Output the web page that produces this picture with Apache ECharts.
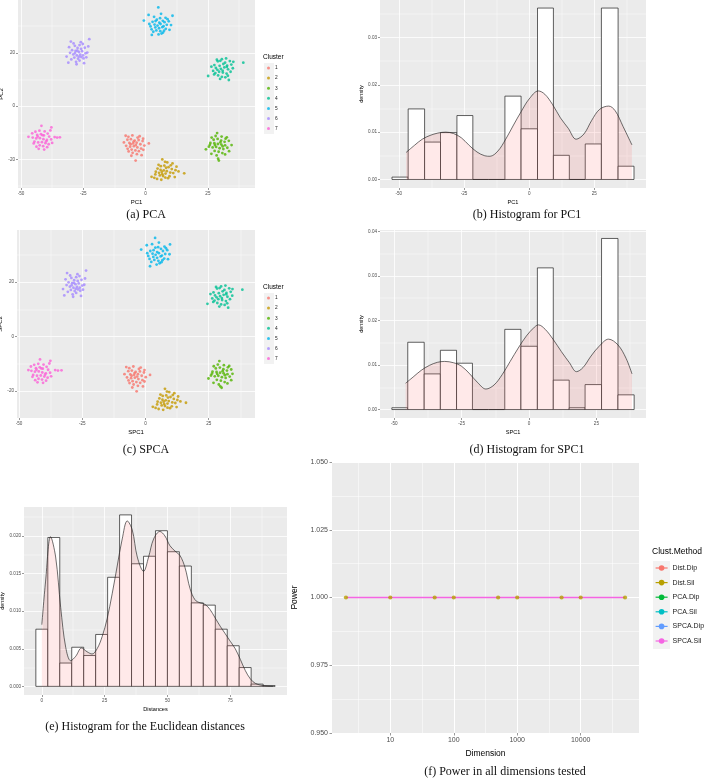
<!DOCTYPE html>
<html><head><meta charset="utf-8">
<script src="https://cdn.jsdelivr.net/npm/echarts@6/dist/echarts.min.js"></script>
<style>html,body{margin:0;padding:0;background:#fff}#c{width:708px;height:779px}</style>
</head><body><div id="c"></div>
<script>
// ---------- DATA ----------
const clusterNames = ['1','2','3','4','5','6','7'];
const clusterColors = ['#F8766D','#C49A00','#53B400','#00C094','#00B6EB','#A58AFF','#FB61D7'];

// (a) PCA scores (PC1, PC2) per cluster
const pcaC1 = [[-4.0,-20.4],[1.3,-14.0],[-1.6,-18.4],[-8.7,-13.6],[-8.0,-11.1],[-6.9,-11.5],[-5.3,-11.0],[-3.2,-11.8],[-7.3,-12.6],[-5.9,-12.4],[-4.4,-12.9],[-2.8,-12.7],[-1.2,-13.1],[-6.5,-13.8],[-5.0,-14.0],[-3.6,-13.7],[-2.1,-14.3],[-0.5,-14.8],[-7.8,-14.9],[-6.2,-15.2],[-4.7,-15.0],[-3.3,-15.5],[-1.8,-15.9],[-5.6,-16.3],[-4.1,-16.6],[-2.7,-16.9],[-6.8,-17.0],[-5.2,-17.5],[-3.5,-18.0],[-0.9,-16.4],[-7.2,-16.0],[-2.4,-11.3],[-4.8,-13.3],[-3.9,-14.6],[-6.0,-14.3],[-1.0,-12.2],[-5.7,-18.6]];
const pcaC2 = [[15.5,-25.2],[2.4,-26.5],[6.7,-20.0],[3.5,-26.9],[4.6,-27.3],[6.3,-27.6],[7.9,-26.8],[9.6,-26.3],[11.7,-26.6],[13.2,-24.5],[12.4,-22.7],[10.8,-21.5],[8.7,-21.1],[5.2,-22.0],[6.1,-22.5],[7.5,-22.3],[9.2,-22.9],[10.5,-23.6],[4.8,-23.4],[6.0,-23.9],[7.3,-24.1],[8.5,-24.4],[9.9,-24.9],[5.4,-25.0],[6.7,-25.5],[8.0,-25.3],[11.1,-25.1],[4.1,-24.6],[7.0,-26.2],[9.0,-27.0],[5.7,-26.0],[8.2,-23.1],[6.5,-24.6],[10.1,-22.2],[3.9,-25.6],[7.8,-20.9],[12.0,-24.0]];
const pcaC3 = [[29.4,-20.4],[28.7,-10.1],[24.2,-16.2],[29.1,-19.7],[26.5,-11.8],[30.5,-11.4],[32.1,-12.2],[27.3,-12.6],[28.9,-12.3],[30.3,-12.9],[31.7,-13.4],[33.4,-13.0],[26.0,-13.8],[27.6,-13.9],[29.0,-14.2],[30.4,-14.4],[31.9,-14.7],[34.5,-14.6],[25.4,-15.2],[26.9,-15.5],[28.3,-15.3],[29.7,-15.8],[31.2,-16.1],[32.8,-15.6],[27.7,-16.8],[29.3,-17.1],[30.8,-17.6],[33.5,-16.9],[26.4,-17.9],[28.5,-18.5],[31.9,-18.1],[27.8,-14.6],[30.0,-13.6],[32.6,-11.7],[25.8,-14.5],[28.1,-11.2],[30.9,-15.1]];
const pcaC4 = [[39.2,16.3],[25.1,11.3],[27.6,15.4],[29.0,16.8],[30.6,17.6],[32.3,17.9],[33.8,16.9],[28.2,14.3],[29.7,15.1],[31.2,15.8],[32.7,15.2],[34.4,15.6],[27.1,13.2],[28.8,13.6],[30.2,14.0],[31.6,14.5],[33.1,13.8],[35.0,14.2],[28.0,12.4],[29.5,12.9],[31.0,12.6],[32.5,12.2],[34.1,12.9],[29.1,11.5],[30.6,11.0],[32.0,10.8],[33.4,9.8],[26.4,14.8],[30.0,17.0],[35.2,16.6],[31.9,16.3],[28.6,17.4],[30.9,13.3],[33.0,11.4],[27.5,11.9],[29.9,10.2],[32.6,14.7]];
const pcaC5 = [[5.1,37.0],[-0.7,32.1],[10.8,33.9],[2.5,26.7],[1.2,34.2],[3.4,33.5],[6.2,34.6],[8.0,33.1],[4.5,32.4],[6.9,32.0],[2.8,31.6],[5.5,31.3],[7.6,31.5],[9.3,31.8],[3.6,30.6],[4.8,30.2],[6.0,30.8],[7.2,30.0],[8.5,30.5],[2.0,29.9],[3.9,29.5],[5.4,29.2],[6.7,29.6],[8.1,29.0],[4.3,28.4],[5.9,28.1],[7.4,28.3],[3.1,27.9],[6.4,27.2],[9.6,28.6],[1.5,30.8],[10.2,30.4],[4.0,31.9],[5.8,33.0],[7.0,27.6],[2.4,28.8],[8.8,32.6],[5.2,26.9]];
const pcaC6 = [[-30.0,24.2],[-22.6,25.1],[-31.0,16.3],[-27.7,15.7],[-24.7,16.1],[-31.7,18.6],[-23.4,20.1],[-28.4,22.6],[-26.5,22.9],[-25.2,23.3],[-27.3,21.8],[-25.9,21.5],[-24.4,21.9],[-29.5,21.0],[-28.1,20.7],[-26.8,20.3],[-25.5,20.6],[-24.1,19.8],[-30.3,20.0],[-29.0,19.4],[-27.6,19.0],[-26.2,19.3],[-28.6,18.2],[-27.1,17.8],[-25.8,18.4],[-29.8,17.5],[-26.5,17.1],[-27.9,16.6],[-24.9,17.9],[-23.0,22.4],[-28.9,23.5],[-26.0,24.0],[-30.7,22.1],[-27.4,20.8],[-25.1,19.0],[-28.3,19.9],[-26.7,18.6],[-23.8,18.3]];
const pcaC7 = [[-47.0,-11.5],[-34.4,-11.7],[-35.5,-11.8],[-36.5,-11.6],[-41.8,-7.4],[-37.8,-8.0],[-38.2,-9.1],[-44.2,-9.6],[-42.6,-9.2],[-40.5,-9.5],[-39.3,-10.3],[-43.5,-10.8],[-42.0,-10.5],[-40.8,-11.0],[-38.7,-11.4],[-45.3,-11.8],[-43.9,-12.1],[-42.4,-12.0],[-41.0,-12.4],[-39.6,-12.7],[-37.9,-12.5],[-44.6,-13.3],[-43.1,-13.6],[-41.6,-13.5],[-40.2,-13.9],[-38.9,-14.3],[-42.5,-14.7],[-41.1,-15.0],[-39.5,-15.4],[-43.8,-15.2],[-40.7,-16.3],[-42.9,-16.0],[-44.9,-14.0],[-45.5,-10.2],[-41.4,-10.9],[-39.9,-13.2],[-37.5,-13.8],[-43.3,-11.4]];

// (c) SPCA scores (SPC1, SPC2) per cluster
const spcaC1 = [[-3.5,-20.1],[1.8,-14.1],[-1.0,-18.3],[-8.3,-13.8],[-7.6,-11.2],[-6.4,-11.6],[-4.8,-11.0],[-2.6,-11.9],[-6.8,-12.7],[-5.4,-12.5],[-3.9,-13.0],[-2.2,-12.8],[-0.6,-13.2],[-6.0,-13.9],[-4.5,-14.1],[-3.0,-13.8],[-1.5,-14.4],[0.1,-14.9],[-7.3,-15.0],[-5.7,-15.3],[-4.2,-15.1],[-2.8,-15.6],[-1.2,-16.0],[-5.1,-16.4],[-3.6,-16.7],[-2.1,-17.0],[-6.3,-17.1],[-4.7,-17.6],[-3.0,-18.1],[-0.4,-16.5],[-6.7,-16.1],[-1.9,-11.4],[-4.3,-13.4],[-3.3,-14.7],[-5.5,-14.4],[-0.4,-12.3],[-5.2,-18.7]];
const spcaC2 = [[16.0,-24.3],[2.9,-25.8],[7.7,-19.2],[4.0,-26.2],[5.2,-26.6],[7.0,-26.9],[8.7,-26.1],[10.4,-25.6],[12.3,-25.9],[13.8,-23.8],[12.9,-22.0],[11.4,-20.8],[9.4,-20.4],[5.9,-21.3],[6.8,-21.8],[8.2,-21.6],[9.9,-22.2],[11.2,-22.9],[5.5,-22.7],[6.7,-23.2],[8.0,-23.4],[9.2,-23.7],[10.6,-24.2],[6.1,-24.3],[7.4,-24.8],[8.7,-24.6],[11.8,-24.4],[4.8,-23.9],[7.7,-25.5],[9.7,-26.3],[6.4,-25.3],[8.9,-22.4],[7.2,-23.9],[10.8,-21.5],[4.6,-24.9],[8.5,-20.2],[12.6,-23.3]];
const spcaC3 = [[30.1,-18.8],[29.2,-9.0],[24.9,-15.4],[29.6,-18.3],[27.0,-10.9],[31.0,-10.5],[32.6,-11.3],[27.8,-11.7],[29.4,-11.4],[30.8,-12.0],[32.2,-12.5],[33.9,-12.1],[26.5,-12.9],[28.1,-13.0],[29.5,-13.3],[30.9,-13.5],[32.4,-13.8],[34.4,-13.7],[25.9,-14.3],[27.4,-14.6],[28.8,-14.4],[30.2,-14.9],[31.7,-15.2],[33.3,-14.7],[28.2,-15.9],[29.8,-16.2],[31.3,-16.7],[33.9,-16.0],[26.9,-17.0],[29.0,-17.6],[32.4,-17.2],[28.3,-13.7],[30.5,-12.7],[33.1,-10.8],[26.3,-13.6],[28.6,-10.3],[31.4,-14.2]];
const spcaC4 = [[38.3,17.2],[24.5,12.0],[26.9,16.2],[28.3,17.6],[29.9,18.4],[31.6,18.7],[33.1,17.7],[27.5,15.1],[29.0,15.9],[30.5,16.6],[32.0,16.0],[33.7,16.4],[26.4,14.0],[28.1,14.4],[29.5,14.8],[30.9,15.3],[32.4,14.6],[34.3,15.0],[27.3,13.2],[28.8,13.7],[30.3,13.4],[31.8,13.0],[33.4,13.7],[28.4,12.3],[29.9,11.8],[31.3,11.6],[32.7,10.6],[25.7,15.6],[29.3,17.8],[34.4,17.4],[31.2,17.1],[27.9,18.2],[30.2,14.1],[32.3,12.2],[26.8,12.7],[29.2,11.0],[31.9,15.5]];
const spcaC5 = [[3.8,36.2],[-1.7,31.9],[9.7,33.8],[1.8,25.8],[0.5,33.5],[2.6,33.9],[5.3,34.5],[7.5,33.0],[3.9,32.6],[6.1,32.2],[1.9,31.4],[4.6,31.0],[6.9,31.4],[8.6,31.7],[2.8,30.4],[4.0,30.0],[5.3,30.6],[6.5,29.7],[7.8,30.3],[1.1,29.6],[3.1,29.2],[4.6,28.9],[6.0,29.4],[7.4,28.6],[3.5,28.1],[5.1,27.8],[6.7,28.0],[2.3,27.4],[5.6,26.9],[8.9,28.4],[0.7,30.6],[9.5,30.2],[3.2,31.7],[5.0,32.8],[6.3,27.3],[1.6,28.5],[8.1,32.4],[4.4,26.4]];
const spcaC6 = [[-31.0,23.3],[-23.5,24.2],[-32.1,15.1],[-28.6,14.6],[-25.5,14.9],[-32.6,17.4],[-24.2,19.0],[-29.3,21.5],[-27.4,21.8],[-26.1,22.2],[-28.2,20.7],[-26.8,20.4],[-25.3,20.8],[-30.4,19.9],[-29.0,19.6],[-27.7,19.2],[-26.4,19.5],[-25.0,18.7],[-31.2,18.9],[-29.9,18.3],[-28.5,17.9],[-27.1,18.2],[-29.5,17.1],[-28.0,16.7],[-26.7,17.3],[-30.7,16.4],[-27.4,16.0],[-28.8,15.5],[-25.8,16.8],[-23.9,21.3],[-29.8,22.4],[-26.9,22.9],[-31.6,21.0],[-28.3,19.7],[-26.0,17.9],[-29.2,18.8],[-27.6,17.5],[-24.7,17.2]];
const spcaC7 = [[-46.3,-12.3],[-33.2,-12.4],[-34.6,-12.5],[-35.7,-12.3],[-41.7,-8.4],[-37.6,-8.9],[-38.0,-9.9],[-44.0,-10.4],[-42.4,-10.0],[-40.3,-10.3],[-39.1,-11.1],[-43.3,-11.6],[-41.8,-11.3],[-40.6,-11.8],[-38.5,-12.2],[-45.1,-12.6],[-43.7,-12.9],[-42.2,-12.8],[-40.8,-13.2],[-39.4,-13.5],[-37.7,-13.3],[-44.4,-14.1],[-42.9,-14.4],[-41.4,-14.3],[-40.0,-14.7],[-38.7,-15.1],[-42.3,-15.5],[-40.9,-15.8],[-39.3,-16.2],[-43.6,-16.0],[-40.5,-17.0],[-42.7,-16.8],[-44.7,-14.8],[-45.3,-11.0],[-41.2,-11.7],[-39.7,-14.0],[-37.3,-14.6],[-43.1,-12.2]];

// (b) histogram of PC1
const histPC1Edges = [-52.6,-46.4,-40.1,-34.0,-27.7,-21.6,-15.5,-9.3,-3.1,3.2,9.3,15.4,21.5,27.7,34.1,40.2];
const histPC1Density = [0.0005,0.0149,0.0079,0.0099,0.0135,0,0,0.0176,0.0107,0.0362,0.0051,0,0.0075,0.0362,0.0028];
const densPC1 = [[-47.2,0.0057],[-44,0.0072],[-41,0.0085],[-38,0.0093],[-35,0.0098],[-32,0.0100],[-29,0.0097],[-26,0.0088],[-23,0.0072],[-20,0.0058],[-17,0.0050],[-15,0.0049],[-12,0.0060],[-9,0.0085],[-6,0.0115],[-3,0.0144],[0,0.0170],[3.5,0.0187],[6,0.0180],[9,0.0158],[12,0.0130],[15,0.0108],[18,0.0085],[21,0.0096],[24,0.0125],[27,0.0148],[30.5,0.0155],[33,0.0145],[36,0.0112],[39.4,0.0073]];

// (d) histogram of SPC1
const histSPC1Edges = [-50.9,-45.0,-38.9,-32.9,-26.9,-21.0,-15.0,-9.0,-3.0,3.1,9.0,14.9,20.8,26.9,33.0,39.0];
const histSPC1Density = [0.0004,0.0151,0.0080,0.0133,0.0104,0,0,0.0180,0.0142,0.0318,0.0066,0.0004,0.0056,0.0384,0.0033];
const densSPC1 = [[-45.8,0.0059],[-43,0.0073],[-40,0.0088],[-37,0.0099],[-34,0.0106],[-31.3,0.0108],[-28,0.0105],[-25,0.0097],[-22,0.0080],[-19,0.0060],[-16,0.0046],[-13,0.0055],[-10,0.0078],[-7,0.0108],[-4,0.0138],[-1,0.0165],[2,0.0185],[3.5,0.0190],[6,0.0180],[9,0.0157],[12,0.0130],[15,0.0105],[17.6,0.0085],[20,0.0094],[23,0.0120],[26,0.0142],[29.5,0.0158],[33,0.0145],[36,0.0115],[38.2,0.0080]];

// (e) histogram of Euclidean distances
const histDistEdges = [-2.38,2.38,7.14,11.90,16.67,21.43,26.19,30.95,35.71,40.48,45.24,50.00,54.76,59.52,64.29,69.05,73.81,78.57,83.33,88.10,92.86];
const histDistDensity = [0.0076,0.0198,0.0031,0.0052,0.0041,0.0069,0.0145,0.0228,0.0163,0.0173,0.0207,0.0179,0.0160,0.0111,0.0108,0.0076,0.0054,0.0025,0.0003,0.0001];
const densDist = [[0,0.0082],[1.5,0.0140],[3.5,0.0199],[5.5,0.0172],[7.5,0.0105],[9.5,0.0052],[11.5,0.0034],[13.5,0.0040],[15.8,0.0051],[18,0.0046],[20,0.0043],[22,0.0050],[24,0.0066],[26,0.0090],[28,0.0123],[30,0.0160],[32,0.0196],[34,0.0220],[36,0.0208],[38,0.0172],[40.5,0.0153],[42.5,0.0172],[44.5,0.0196],[47,0.0206],[49,0.0200],[51,0.0187],[53,0.0180],[55,0.0174],[57,0.0158],[59,0.0130],[61,0.0115],[63,0.0111],[65,0.0109],[67,0.0102],[69,0.0091],[71,0.0080],[73,0.0070],[75,0.0060],[77,0.0050],[79,0.0036],[81,0.0021],[83,0.0010],[85,0.0004],[88,0.0001],[92,0.0000]];

// (f) power by dimension
const dims = [2,10,50,100,500,1000,5000,10000,50000];
const methodNames = ['Dist.Dip','Dist.Sil','PCA.Dip','PCA.Sil','SPCA.Dip','SPCA.Sil'];
const methodColors = ['#F8766D','#B79F00','#00BA38','#00BFC4','#619CFF','#F564E3'];
const powerDistDip = [1,1,1,1,1,1,1,1,1];
const powerDistSil = [1,1,1,1,1,1,1,1,1];
const powerPCADip = [1,1,1,1,1,1,1,1,1];
const powerPCASil = [1,1,1,1,1,1,1,1,1];
const powerSPCADip = [1,1,1,1,1,1,1,1,1];
const powerSPCASil = [1,1,1,1,1,1,1,1,1];

// tick labels
const ticksScatterX = [-50,-25,0,25];
const ticksScatterY = [-20,0,20];
const ticksHistX = [-50,-25,0,25];
const ticksPC1Y = [0,0.01,0.02,0.03];
const ticksSPC1Y = [0,0.01,0.02,0.03,0.04];
const ticksDistX = [0,25,50,75];
const ticksDistY = [0,0.005,0.01,0.015,0.02];
const ticksDimX = [10,100,1000,10000];
const ticksPowerY = [0.95,0.975,1,1.025,1.05];

// ---------- BUILD ----------
const SANS = '"Liberation Sans", Arial, sans-serif';
const SERIF = '"Liberation Serif", "DejaVu Serif", serif';

const grids = [
  {left:18,  top:0,   width:237, height:188}, // a
  {left:380, top:0,   width:266, height:188}, // b
  {left:17,  top:230, width:238, height:188}, // c
  {left:380, top:230, width:266, height:188}, // d
  {left:24,  top:507, width:263, height:188}, // e
  {left:332, top:462, width:307, height:271}  // f
].map(g => Object.assign({show:true, backgroundColor:'#EBEBEB', borderWidth:0, containLabel:false, outerBoundsMode:'none'}, g));

function mainAxis(dim, gi, min, max, ticks, fmt, o) {
  return {
    type: o.log ? 'log' : 'value', logBase: 10, gridIndex: gi, min: min, max: max,
    position: dim === 'x' ? 'bottom' : 'left',
    name: o.name, nameLocation: 'middle', nameGap: o.nameGap,
    nameTextStyle: {fontSize: o.nameSize, color: '#000', fontFamily: SANS},
    axisLine: {show: false, onZero: false},
    axisTick: {show: true, length: o.tickLen, lineStyle: {color: '#333', width: 0.5}, customValues: ticks},
    axisLabel: {show: true, customValues: ticks, formatter: fmt, fontSize: o.labelSize, color: '#4D4D4D', margin: o.margin, fontFamily: SANS},
    splitLine: {show: true, lineStyle: {color: '#fff', width: o.major}},
    minorTick: {show: false}, minorSplitLine: {show: false}
  };
}
function minorAxis(dim, gi, min, max, ticks, w, log) {
  return {
    type: log ? 'log' : 'value', logBase: 10, gridIndex: gi, min: min, max: max,
    position: dim === 'x' ? 'bottom' : 'left',
    axisLine: {show: false, onZero: false},
    axisTick: {show: false, customValues: ticks},
    axisLabel: {show: false, customValues: ticks},
    splitLine: {show: true, lineStyle: {color: '#fff', width: w}}
  };
}
const fInt = v => String(Math.round(v));
const f2 = v => v.toFixed(2);
const f3 = v => v.toFixed(3);

const sc = {tickLen: 2, labelSize: 4.6, margin: 3, major: 0.8, nameSize: 6};
const hs = {tickLen: 2, labelSize: 4.6, margin: 3, major: 0.8, nameSize: 5.6};

const xAxes = [
  mainAxis('x', 0, -51.2, 43.9, ticksScatterX, fInt, Object.assign({name: 'PC1', nameGap: 11}, sc)),
  mainAxis('x', 1, -57.2, 44.8, ticksHistX, fInt, Object.assign({name: 'PC1', nameGap: 11}, hs)),
  mainAxis('x', 2, -50.8, 43.3, ticksScatterX, fInt, Object.assign({name: 'SPC1', nameGap: 11}, sc)),
  mainAxis('x', 3, -55.3, 43.4, ticksHistX, fInt, Object.assign({name: 'SPC1', nameGap: 11}, hs)),
  mainAxis('x', 4, -7.1, 97.6, ticksDistX, fInt, Object.assign({name: 'Distances', nameGap: 11}, hs)),
  mainAxis('x', 5, 1.206, 82990, ticksDimX, fInt, {name: 'Dimension', nameGap: 16, nameSize: 8.5, tickLen: 2.5, labelSize: 7, margin: 4, major: 1, log: true}),
  minorAxis('x', 0, -51.2, 43.9, [-37.5,-12.5,12.5,37.5], 0.4),
  minorAxis('x', 1, -57.2, 44.8, [-37.5,-12.5,12.5,37.5], 0.4),
  minorAxis('x', 2, -50.8, 43.3, [-37.5,-12.5,12.5,37.5], 0.4),
  minorAxis('x', 3, -55.3, 43.4, [-37.5,-12.5,12.5,37.5], 0.4),
  minorAxis('x', 4, -7.1, 97.6, [12.5,37.5,62.5,87.5], 0.4),
  minorAxis('x', 5, 1.206, 82990, [3.1623,31.623,316.23,3162.3,31623], 0.5, true)
];
const yAxes = [
  mainAxis('y', 0, -30.7, 39.8, ticksScatterY, fInt, Object.assign({name: 'PC2', nameGap: 12}, sc)),
  mainAxis('y', 1, -0.0018, 0.0379, ticksPC1Y, f2, Object.assign({name: 'density', nameGap: 16}, hs)),
  mainAxis('y', 2, -29.9, 39.1, ticksScatterY, fInt, Object.assign({name: 'SPC2', nameGap: 12}, sc)),
  mainAxis('y', 3, -0.0019, 0.0403, ticksSPC1Y, f2, Object.assign({name: 'density', nameGap: 16}, hs)),
  mainAxis('y', 4, -0.00115, 0.02385, ticksDistY, f3, Object.assign({name: 'density', nameGap: 18}, hs)),
  mainAxis('y', 5, 0.95, 1.05, ticksPowerY, f3, {name: 'Power', nameGap: 33, nameSize: 8.5, tickLen: 2.5, labelSize: 7, margin: 4, major: 1}),
  minorAxis('y', 0, -30.7, 39.8, [-30,-10,10,30], 0.4),
  minorAxis('y', 1, -0.0018, 0.0379, [0.005,0.015,0.025,0.035], 0.4),
  minorAxis('y', 2, -29.9, 39.1, [-30,-10,10,30], 0.4),
  minorAxis('y', 3, -0.0019, 0.0403, [0.005,0.015,0.025,0.035], 0.4),
  minorAxis('y', 4, -0.00115, 0.02385, [0.0025,0.0075,0.0125,0.0175,0.0225], 0.4),
  minorAxis('y', 5, 0.95, 1.05, [0.9625,0.9875,1.0125,1.0375], 0.5)
];

const series = [];
const pcaSets = [pcaC1,pcaC2,pcaC3,pcaC4,pcaC5,pcaC6,pcaC7];
const spcaSets = [spcaC1,spcaC2,spcaC3,spcaC4,spcaC5,spcaC6,spcaC7];
pcaSets.forEach((d, i) => series.push({type:'scatter', name: clusterNames[i], xAxisIndex:0, yAxisIndex:0, data:d, symbolSize:2.8, itemStyle:{color:clusterColors[i]}, silent:true}));
spcaSets.forEach((d, i) => series.push({type:'scatter', name: clusterNames[i], xAxisIndex:2, yAxisIndex:2, data:d, symbolSize:2.8, itemStyle:{color:clusterColors[i]}, silent:true}));

function histSeries(ai, edges, heights) {
  return {
    type: 'custom', xAxisIndex: ai, yAxisIndex: ai, silent: true, z: 2,
    data: heights.map((h, i) => [edges[i], edges[i+1], h]),
    encode: {x: [0, 1], y: 2},
    renderItem: function (params, api) {
      const p0 = api.coord([api.value(0), 0]);
      const p1 = api.coord([api.value(1), api.value(2)]);
      return {type: 'rect', shape: {x: p0[0], y: p1[1], width: p1[0] - p0[0], height: p0[1] - p1[1]},
        style: {fill: '#fff', stroke: '#1e1e1e', lineWidth: 0.7}};
    }
  };
}
function densSeries(ai, pts) {
  return {type: 'line', xAxisIndex: ai, yAxisIndex: ai, data: pts, smooth: 0.35,
    symbol: 'none', showSymbol: false, silent: true, z: 3,
    lineStyle: {color: '#222', width: 0.65}, areaStyle: {color: 'rgba(255,102,102,0.2)', origin: 0}};
}
series.push(histSeries(1, histPC1Edges, histPC1Density), densSeries(1, densPC1));
series.push(histSeries(3, histSPC1Edges, histSPC1Density), densSeries(3, densSPC1));
series.push(histSeries(4, histDistEdges, histDistDensity), densSeries(4, densDist));

// (f): the six lines coincide; only the last-drawn one (SPCA.Sil) is visible, as in the reference
const powers = [powerDistDip, powerDistSil, powerPCADip, powerPCASil, powerSPCADip, powerSPCASil];
const lastIdx = methodNames.length - 1;
methodNames.forEach((n, i) => series.push({
  type: 'line', name: n, xAxisIndex: 5, yAxisIndex: 5, data: dims.map((d, k) => [d, powers[i][k]]),
  symbol: 'circle', symbolSize: 4, showSymbol: false, silent: true,
  emphasis: {disabled: true}, z: 4,
  lineStyle: {color: methodColors[i], width: 1.3, opacity: i === lastIdx ? 1 : 0},
  itemStyle: {color: methodColors[i]}
}));
series.push({type: 'scatter', name: 'Dist.Sil points', xAxisIndex: 5, yAxisIndex: 5,
  data: dims.map((d, k) => [d, powerDistSil[k]]), symbolSize: 4.2, z: 8, silent: true,
  itemStyle: {color: methodColors[1]}});

const legendCluster = (top) => ({
  orient: 'vertical', left: 267, top: top, padding: 0, itemWidth: 3, itemHeight: 3, itemGap: 4.1,
  icon: 'circle', data: clusterNames, selectedMode: false,
  textStyle: {fontSize: 4.8, color: '#1a1a1a', lineHeight: 6, fontFamily: SANS}
});

const graphics = [
  {type:'rect', shape:{x:264, y:63, width:10, height:71}, style:{fill:'#F2F2F2'}, z:-1},
  {type:'rect', shape:{x:264, y:293, width:10, height:71}, style:{fill:'#F2F2F2'}, z:-1},
  {type:'rect', shape:{x:653, y:561, width:17, height:88}, style:{fill:'#F2F2F2'}, z:-1},
  {type:'text', x:263, y:57, style:{text:'Cluster', font:'6.5px ' + SANS, fill:'#000', textAlign:'left', textVerticalAlign:'middle'}},
  {type:'text', x:263, y:287, style:{text:'Cluster', font:'6.5px ' + SANS, fill:'#000', textAlign:'left', textVerticalAlign:'middle'}},
  {type:'text', x:652, y:552, style:{text:'Clust.Method', font:'8.5px ' + SANS, fill:'#000', textAlign:'left', textVerticalAlign:'middle'}},
  {type:'text', x:146, y:215, style:{text:'(a) PCA', font:'12px ' + SERIF, fill:'#111', textAlign:'center', textVerticalAlign:'middle'}},
  {type:'text', x:527, y:215, style:{text:'(b) Histogram for PC1', font:'12px ' + SERIF, fill:'#111', textAlign:'center', textVerticalAlign:'middle'}},
  {type:'text', x:146, y:450, style:{text:'(c) SPCA', font:'12px ' + SERIF, fill:'#111', textAlign:'center', textVerticalAlign:'middle'}},
  {type:'text', x:527, y:450, style:{text:'(d) Histogram for SPC1', font:'12px ' + SERIF, fill:'#111', textAlign:'center', textVerticalAlign:'middle'}},
  {type:'text', x:145, y:727, style:{text:'(e) Histogram for the Euclidean distances', font:'12px ' + SERIF, fill:'#111', textAlign:'center', textVerticalAlign:'middle'}},
  {type:'text', x:505, y:772, style:{text:'(f) Power in all dimensions tested', font:'12px ' + SERIF, fill:'#111', textAlign:'center', textVerticalAlign:'middle'}}
];

const chart = echarts.init(document.getElementById('c'), null, {renderer: 'canvas', width: 708, height: 779});
chart.setOption({
  animation: false,
  backgroundColor: '#fff',
  grid: grids,
  xAxis: xAxes,
  yAxis: yAxes,
  legend: [
    legendCluster(65),
    legendCluster(295),
    {orient: 'vertical', left: 655, top: 563.5, padding: 0, itemWidth: 12, itemHeight: 7, itemGap: 5.6,
     data: methodNames.map((n, i) => ({name: n, lineStyle: {color: methodColors[i], opacity: 1, width: 1.2}, itemStyle: {color: methodColors[i], opacity: 1}})),
     selectedMode: false,
     textStyle: {fontSize: 7, color: '#1a1a1a', lineHeight: 9, fontFamily: SANS}}
  ],
  graphic: graphics,
  series: series
});
</script></body></html>
